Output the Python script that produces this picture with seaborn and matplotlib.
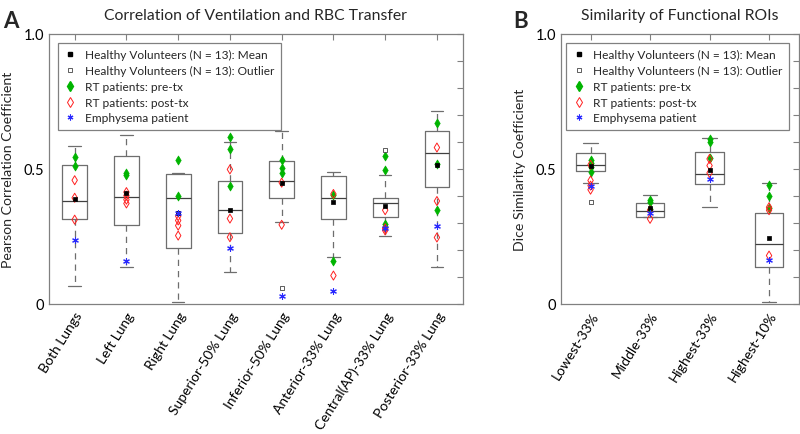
import numpy as np
import pandas as pd
import matplotlib
matplotlib.use("Agg")
import matplotlib.pyplot as plt
from matplotlib.lines import Line2D
from matplotlib.ticker import MultipleLocator
import seaborn as sns

sns.set_theme(style="white")
plt.rcParams["font.family"] = ["Lato", "DejaVu Sans"]

# ---------------- Panel A data ----------------
cats_a = ["Both Lungs", "Left Lung", "Right Lung", "Superior-50% Lung",
          "Inferior-50% Lung", "Anterior-33% Lung", "Central(AP)-33% Lung",
          "Posterior-33% Lung"]
a_low = [0.067, 0.138, 0.009, 0.120, 0.302, 0.175, 0.253, 0.135]
a_q1 = [0.314, 0.291, 0.206, 0.262, 0.391, 0.314, 0.320, 0.432]
a_med = [0.380, 0.395, 0.391, 0.347, 0.456, 0.394, 0.372, 0.559]
a_q3 = [0.515, 0.547, 0.481, 0.456, 0.528, 0.472, 0.391, 0.642]
a_high = [0.585, 0.626, 0.485, 0.599, 0.642, 0.490, 0.479, 0.716]
a_mean = [0.388, 0.410, 0.338, 0.347, 0.449, 0.378, 0.364, 0.516]
a_outlier = [[], [], [], [], [0.059], [], [0.568], []]
a_pre = [[0.543, 0.510], [0.485, 0.479], [0.533, 0.400], [0.617, 0.574, 0.437],
         [0.533, 0.504, 0.483], [0.405, 0.159], [0.547, 0.496, 0.296, 0.285],
         [0.670, 0.517, 0.349]]
a_post = [[0.458, 0.393, 0.312], [0.414, 0.401, 0.386, 0.372],
          [0.325, 0.309, 0.290, 0.253], [0.498, 0.316, 0.247],
          [0.449, 0.293], [0.407, 0.105], [0.347, 0.280, 0.272],
          [0.579, 0.381, 0.246]]
a_emph = [0.238, 0.158, 0.336, 0.207, 0.031, 0.048, 0.280, 0.290]

# ---------------- Panel B data ----------------
cats_b = ["Lowest-33%", "Middle-33%", "Highest-33%", "Highest-10%"]
b_low = [0.447, 0.321, 0.357, 0.009]
b_q1 = [0.491, 0.321, 0.444, 0.135]
b_med = [0.516, 0.344, 0.480, 0.222]
b_q3 = [0.558, 0.372, 0.562, 0.337]
b_high = [0.595, 0.405, 0.615, 0.448]
b_mean = [0.512, 0.354, 0.494, 0.243]
b_outlier = [[0.378], [], [], []]
b_pre = [[0.531, 0.522, 0.508, 0.488], [0.385, 0.379, 0.350],
         [0.611, 0.601, 0.542], [0.442, 0.399, 0.354]]
b_post = [[0.515, 0.457, 0.438, 0.423], [0.347, 0.315],
          [0.537, 0.512, 0.485], [0.358, 0.347, 0.179]]
b_emph = [0.438, 0.336, 0.462, 0.164]

legend_labels = ["Healthy Volunteers (N = 13): Mean",
                 "Healthy Volunteers (N = 13): Outlier",
                 "RT patients: pre-tx",
                 "RT patients: post-tx",
                 "Emphysema patient"]

GREEN = "#00b400"
RED = "#ff2020"
BLUE = "#2a2aff"
BOXC = "#6e6e6e"
SPINE = "#808080"


def box_frame(cats, *stats):
    rows = [(c, v) for i, c in enumerate(cats) for v in (s[i] for s in stats)]
    return pd.DataFrame(rows, columns=["cat", "val"])


def pts_frame(cats, groups):
    rows = [(c, v) for c, vs in zip(cats, groups) for v in vs]
    return pd.DataFrame(rows, columns=["cat", "val"])


def strip(ax, cats, df, marker, size, face, edge, lw):
    n0 = len(ax.collections)
    sns.stripplot(data=df, x="cat", y="val", order=cats, ax=ax, jitter=False,
                  marker=marker, size=size, color=edge, linewidth=0)
    for coll in ax.collections[n0:]:
        coll.set_facecolor(face)
        coll.set_edgecolor(edge)
        coll.set_linewidth(lw)
        coll.set_zorder(5)


def draw(ax, cats, low, q1, med, q3, high, mean, outl, pre, post, emph,
         ylabel, title):
    bdf = box_frame(cats, low, q1, med, q3, high)
    sns.boxplot(data=bdf, x="cat", y="val", order=cats, ax=ax, whis=(0, 100),
                width=0.48, fill=False, color=BOXC, linewidth=0.9,
                showfliers=False,
                whiskerprops=dict(linestyle=(0, (5, 4))),
                medianprops=dict(color="#404040"))
    strip(ax, cats, pts_frame(cats, pre), "d", 4.6, GREEN, GREEN, 0.5)
    strip(ax, cats, pts_frame(cats, post), "d", 4.6, "none", RED, 0.7)
    strip(ax, cats, pts_frame(cats, [[m] for m in mean]), "s", 3.3, "black", "black", 0.5)
    strip(ax, cats, pts_frame(cats, outl), "s", 3.3, "white", "#444444", 0.6)
    strip(ax, cats, pts_frame(cats, [[e] for e in emph]), (6, 2, 0), 4.2, BLUE, BLUE, 0.8)

    n = len(cats)
    ax.set_xlim(-0.5, n - 0.5)
    ax.set_ylim(0, 1)
    ax.set_yticks([0, 0.5, 1.0])
    ax.set_yticklabels(["0", "0.5", "1.0"])
    ax.yaxis.set_minor_locator(MultipleLocator(0.1))
    ax.tick_params(axis="both", which="both", direction="in", top=True,
                   right=True, colors=SPINE, labelcolor="black", labelsize=10.5)
    ax.tick_params(axis="y", which="major", length=4, width=0.8)
    ax.tick_params(axis="y", which="minor", length=4, width=0.8)
    ax.tick_params(axis="x", which="major", length=4, width=0.8, pad=4)
    for lab in ax.get_xticklabels():
        lab.set_rotation(58)
        lab.set_ha("right")
        lab.set_rotation_mode("anchor")
        lab.set_fontsize(10)
    for sp in ax.spines.values():
        sp.set_visible(True)
        sp.set_color(SPINE)
        sp.set_linewidth(0.9)
    ax.set_xlabel("")
    ax.set_ylabel(ylabel, fontsize=10.2, labelpad=7)
    ax.set_title(title, fontsize=11.3, pad=11)

    handles = [
        Line2D([], [], ls="none", marker="s", ms=3.3, mfc="black", mec="black"),
        Line2D([], [], ls="none", marker="s", ms=3.3, mfc="white", mec="#444444", mew=0.6),
        Line2D([], [], ls="none", marker="d", ms=4.6, mfc=GREEN, mec=GREEN),
        Line2D([], [], ls="none", marker="d", ms=4.6, mfc="none", mec=RED, mew=0.7),
        Line2D([], [], ls="none", marker=(6, 2, 0), ms=4.2, mfc=BLUE, mec=BLUE, mew=0.8),
    ]
    leg = ax.legend(handles, legend_labels, loc="upper left",
                    bbox_to_anchor=(0.022, 0.967), borderaxespad=0,
                    fancybox=False, frameon=True, edgecolor=SPINE,
                    framealpha=1, fontsize=8.6, labelspacing=0.4,
                    handlelength=1.0, handletextpad=0.7, borderpad=0.55)
    leg.get_frame().set_linewidth(0.9)


fig = plt.figure(figsize=(8, 4.35), dpi=100)
ax1 = fig.add_axes([0.061, 0.299, 0.5175, 0.621])
ax2 = fig.add_axes([0.701, 0.299, 0.2975, 0.621])

draw(ax1, cats_a, a_low, a_q1, a_med, a_q3, a_high, a_mean, a_outlier,
     a_pre, a_post, a_emph, "Pearson Correlation Coefficient",
     "Correlation of Ventilation and RBC Transfer")
draw(ax2, cats_b, b_low, b_q1, b_med, b_q3, b_high, b_mean, b_outlier,
     b_pre, b_post, b_emph, "Dice Similarity Coefficient",
     "Similarity of Functional ROIs")

fig.text(0.004, 0.975, "A", fontsize=16, fontweight="bold", va="top", ha="left")
fig.text(0.641, 0.975, "B", fontsize=16, fontweight="bold", va="top", ha="left")

fig.savefig("out.png", dpi=100)
